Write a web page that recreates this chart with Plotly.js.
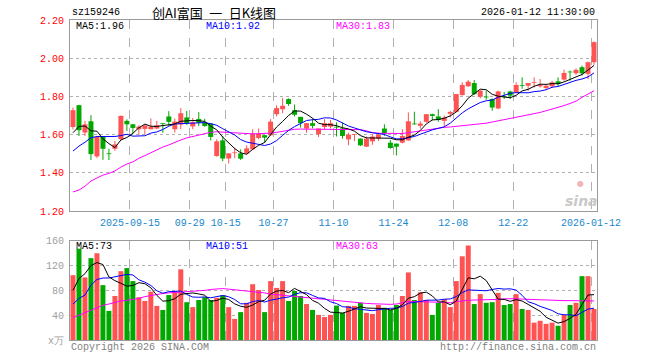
<!DOCTYPE html>
<html><head><meta charset="utf-8">
<script src="https://cdn.plot.ly/plotly-3.0.1.min.js"></script>
<style>html,body{margin:0;padding:0;background:#fff;}#chart{width:660px;height:360px;}</style>
</head><body><div id="chart"></div>
<script>
// ---- data ----
const dates = [
'2025-09-01','2025-09-02','2025-09-03','2025-09-04','2025-09-05','2025-09-08','2025-09-09','2025-09-10','2025-09-11','2025-09-12',
'2025-09-15','2025-09-16','2025-09-17','2025-09-18','2025-09-19','2025-09-22','2025-09-23','2025-09-24','2025-09-25','2025-09-26',
'2025-09-29','2025-09-30','2025-10-09','2025-10-10','2025-10-13','2025-10-14','2025-10-15','2025-10-16','2025-10-17','2025-10-20',
'2025-10-21','2025-10-22','2025-10-23','2025-10-24','2025-10-27','2025-10-28','2025-10-29','2025-10-30','2025-10-31','2025-11-03',
'2025-11-04','2025-11-05','2025-11-06','2025-11-07','2025-11-10','2025-11-11','2025-11-12','2025-11-13','2025-11-14','2025-11-17',
'2025-11-18','2025-11-19','2025-11-20','2025-11-21','2025-11-24','2025-11-25','2025-11-26','2025-11-27','2025-11-28','2025-12-01',
'2025-12-02','2025-12-03','2025-12-04','2025-12-05','2025-12-08','2025-12-09','2025-12-10','2025-12-11','2025-12-12','2025-12-15',
'2025-12-16','2025-12-17','2025-12-18','2025-12-19','2025-12-22','2025-12-23','2025-12-24','2025-12-25','2025-12-26','2025-12-29',
'2025-12-30','2025-12-31','2026-01-05','2026-01-06','2026-01-07','2026-01-08','2026-01-09','2026-01-12'];

const open = [1.640,1.754,1.611,1.670,1.486,1.590,1.502,1.526,1.576,1.672,
1.654,1.628,1.630,1.628,1.632,1.660,1.695,1.628,1.653,1.690,
1.643,1.682,1.662,1.658,1.488,1.570,1.475,1.503,1.502,1.502,
1.523,1.582,1.597,1.597,1.707,1.733,1.786,1.728,1.693,1.632,
1.660,1.602,1.640,1.642,1.641,1.632,1.575,1.598,1.579,1.537,
1.565,1.580,1.632,1.558,1.553,1.558,1.570,1.656,1.646,1.667,
1.707,1.695,1.672,1.709,1.719,1.807,1.853,1.870,1.798,1.797,
1.786,1.737,1.800,1.826,1.821,1.858,1.856,1.870,1.853,1.844,
1.853,1.879,1.888,1.928,1.921,1.953,1.918,1.979];
const high = [1.742,1.756,1.672,1.702,1.593,1.592,1.526,1.567,1.700,1.680,
1.656,1.649,1.652,1.685,1.672,1.660,1.723,1.684,1.739,1.724,
1.687,1.718,1.683,1.660,1.575,1.593,1.503,1.532,1.523,1.544,
1.628,1.632,1.597,1.681,1.754,1.791,1.790,1.758,1.693,1.660,
1.684,1.632,1.681,1.677,1.664,1.663,1.610,1.602,1.580,1.590,
1.602,1.610,1.654,1.572,1.553,1.628,1.716,1.720,1.670,1.707,
1.710,1.733,1.700,1.724,1.812,1.874,1.886,1.886,1.835,1.830,
1.790,1.830,1.823,1.830,1.874,1.900,1.870,1.900,1.891,1.865,
1.882,1.900,1.940,1.935,1.947,1.961,1.982,2.088];
const low = [1.627,1.593,1.593,1.467,1.477,1.468,1.467,1.516,1.572,1.619,
1.607,1.600,1.600,1.628,1.628,1.610,1.646,1.610,1.628,1.650,
1.628,1.645,1.641,1.570,1.484,1.461,1.449,1.477,1.467,1.497,
1.519,1.575,1.558,1.593,1.695,1.712,1.751,1.695,1.637,1.610,
1.633,1.588,1.628,1.632,1.590,1.579,1.544,1.566,1.540,1.535,
1.547,1.567,1.593,1.526,1.491,1.554,1.567,1.652,1.632,1.663,
1.675,1.667,1.642,1.690,1.716,1.804,1.850,1.807,1.790,1.782,
1.725,1.733,1.786,1.786,1.818,1.840,1.828,1.846,1.846,1.837,
1.844,1.853,1.882,1.882,1.912,1.909,1.891,1.965];
const close = [1.728,1.623,1.654,1.498,1.588,1.526,1.498,1.549,1.698,1.654,
1.635,1.642,1.648,1.642,1.649,1.656,1.667,1.668,1.712,1.660,
1.665,1.662,1.645,1.588,1.565,1.475,1.502,1.507,1.474,1.528,
1.605,1.605,1.584,1.668,1.739,1.751,1.760,1.704,1.660,1.660,
1.646,1.632,1.660,1.660,1.637,1.593,1.600,1.600,1.544,1.579,
1.590,1.600,1.607,1.530,1.537,1.593,1.670,1.654,1.658,1.707,
1.698,1.677,1.689,1.719,1.812,1.860,1.877,1.812,1.830,1.795,
1.742,1.826,1.798,1.804,1.860,1.855,1.870,1.874,1.860,1.856,
1.874,1.865,1.923,1.926,1.939,1.921,1.979,2.084];

const ma5 = [1.610,1.643,1.645,1.620,1.618,1.578,1.553,1.532,1.572,1.585,
1.607,1.636,1.655,1.644,1.643,1.647,1.652,1.656,1.670,1.673,
1.674,1.673,1.669,1.644,1.625,1.587,1.555,1.527,1.505,1.497,
1.523,1.544,1.559,1.598,1.640,1.669,1.700,1.724,1.723,1.707,
1.686,1.660,1.652,1.652,1.647,1.636,1.630,1.618,1.595,1.583,
1.583,1.583,1.584,1.581,1.573,1.573,1.587,1.597,1.622,1.656,
1.677,1.679,1.686,1.698,1.719,1.751,1.791,1.816,1.838,1.835,
1.811,1.801,1.798,1.793,1.806,1.829,1.837,1.853,1.864,1.863,
1.867,1.866,1.876,1.889,1.905,1.915,1.938,1.962];
const ma10 = [1.514,1.540,1.560,1.584,1.590,1.590,1.590,1.590,1.595,1.602,
1.592,1.594,1.594,1.608,1.614,1.627,1.644,1.656,1.657,1.658,
1.661,1.663,1.663,1.657,1.649,1.631,1.614,1.598,1.574,1.561,
1.555,1.549,1.543,1.551,1.569,1.596,1.622,1.642,1.660,1.674,
1.678,1.680,1.688,1.687,1.677,1.661,1.645,1.635,1.623,1.615,
1.610,1.606,1.601,1.588,1.578,1.578,1.585,1.590,1.602,1.615,
1.625,1.633,1.641,1.660,1.688,1.714,1.735,1.751,1.768,1.777,
1.781,1.796,1.807,1.816,1.820,1.820,1.819,1.825,1.828,1.835,
1.848,1.852,1.864,1.876,1.884,1.891,1.902,1.923];
const ma30 = [1.300,1.310,1.330,1.357,1.373,1.388,1.397,1.410,1.430,1.446,
1.457,1.476,1.490,1.506,1.520,1.535,1.546,1.560,1.572,1.583,
1.590,1.600,1.607,1.612,1.615,1.613,1.610,1.607,1.605,1.604,
1.604,1.605,1.606,1.608,1.612,1.618,1.625,1.628,1.629,1.629,
1.629,1.629,1.629,1.629,1.628,1.628,1.628,1.627,1.626,1.620,
1.610,1.607,1.606,1.605,1.605,1.606,1.610,1.615,1.620,1.625,
1.630,1.635,1.638,1.640,1.643,1.645,1.648,1.651,1.655,1.660,
1.666,1.672,1.678,1.684,1.690,1.696,1.701,1.707,1.716,1.725,
1.733,1.742,1.752,1.763,1.775,1.795,1.812,1.830];

const volume = [104.5,147,101,132,140,88.5,47,71,111,116,
95,69,63,78,55,48.5,72.5,79,114,61,
53,64.5,69,64.5,68,72,53,34,45,60,
90,80.5,45,95,84,95,63,79,71,58,
48.5,40.5,37,40.5,55.5,43.7,55,55,60,43.7,
42,56.5,52,48.5,56.5,71,109,64.5,77,64.5,
40.5,60,66,53,95,135,152.5,58,74,60,
61,76,56.5,58,74,50,48.5,28,31,26,
28,23,40.5,56.5,60,103,103,50];
const vma5 = [80,99,107,120,124.9,121.7,101.7,95.7,91.5,86.7,
88,92.4,90.8,84.2,72,62.7,63.4,66.6,73.8,75,
75.9,74.3,72.3,62.4,63.8,67.6,65.3,58.3,54.4,52.8,
56.4,61.9,64.1,74.1,78.9,79.9,76.4,83.2,78.4,73.2,
63.9,59.4,51,44.9,44.4,43.4,46.3,49.9,53.8,51.5,
51.1,51.4,50.8,48.5,51.1,56.9,67.4,69.9,75.6,77.2,
71.1,61.3,61.6,56.8,62.9,81.8,100.3,98.7,102.9,95.9,
81.1,65.8,65.5,62.3,65.1,62.9,57.4,51.7,46.3,36.7,
32.3,27.2,29.7,34.8,41.6,56.6,72.6,73.2];
const vma10 = [58,67,72.5,88.5,97.6,100,100,102,103.5,105.8,
104.9,97.1,93.3,87.9,79.4,75.4,77.9,78.7,79,73.5,
69.3,68.9,69.5,68.1,69.4,71.8,69.8,65.3,58.4,58.3,
62,63.6,61.2,64.3,65.9,68.2,69.2,73.7,76.3,76.1,
71.9,67.9,67.1,61.7,58.8,53.7,52.9,50.5,49.4,47.9,
47.3,48.9,50.4,51.2,51.3,54,59.4,60.4,62.1,64.2,
64,64.4,65.8,66.2,70.1,76.5,80.8,80.2,79.9,79.4,
81.5,83.1,82.1,82.6,80.5,72,61.6,58.6,54.3,50.9,
47.6,42.3,40.7,40.6,39.2,44.5,49.9,51.3];
const vma30 = [36,40,45,49,53,56,58,61,63,64,
65.5,67,70,72,73.5,75,76,76.5,77.5,78,
78.5,79,80,81.5,82.5,83,82,81,80,79.5,
79,77.5,76,74,73,72,71,70,69.5,69,
68,67,65.5,64,63.5,62.5,62,61,60,59,
58.5,58,57.5,57.5,58,60,62,62,62,62,
61.5,61,60.5,60,62,63.5,64,64.5,64.5,64.5,
64.5,65.5,66.5,67,66.5,66,65.5,65,65,64.5,
64,64,63.5,63.5,63.5,63.5,63.2,63];

const tickDates  = ['2025-09-15','2025-09-29','2025-10-15','2025-10-27','2025-11-10','2025-11-24','2025-12-08','2025-12-22','2026-01-12'];
const tickLabels = ['2025-09-15','09-29','10-15','10-27','11-10','11-24','12-08','12-22','2026-01-12'];
const priceTicks = [1.2,1.4,1.6,1.8,2.0,2.2];
const volTicks = [0,40,80,120,160];
const volTickText = ['x万','40','80','120','160'];

const code = 'sz159246';
const titleText = '创AI富国\u2002一\u2002日K线图';
const stamp = '2026-01-12 11:30:00';

// ---- build ----
const UP = '#ff5353', DOWN = '#00a800';
const idx = dates.map((d,i)=>i);
const isUp = idx.map(i => close[i] >= open[i]);
const colors = isUp.map(u => u ? UP : DOWN);
const bodyBase = idx.map(i => Math.min(open[i], close[i]));
const bodyH = idx.map(i => Math.max(Math.abs(close[i]-open[i]), 0.004));

function wick(up){
  const xs=[], ys=[];
  idx.forEach(i=>{ if(isUp[i]===up){ xs.push(i,i,null); ys.push(low[i],high[i],null);} });
  return {x:xs,y:ys,type:'scatter',mode:'lines',line:{color:up?UP:DOWN,width:1},xaxis:'x',yaxis:'y',hoverinfo:'skip'};
}
const tickPos = tickDates.map(d => dates.indexOf(d) - 0.5);

const lineT = (y, color, xa, ya) => ({x:idx,y:y,type:'scatter',mode:'lines',line:{color:color,width:1},xaxis:xa,yaxis:ya,hoverinfo:'skip'});

const traces = [
  wick(true), wick(false),
  {x:idx,y:bodyH,base:bodyBase,type:'bar',width:0.83,marker:{color:colors,line:{width:0}},xaxis:'x',yaxis:'y',hoverinfo:'skip'},
  lineT(ma30,'#ff00ff','x','y'), lineT(ma10,'#0000ff','x','y'), lineT(ma5,'#000000','x','y'),
  {x:idx,y:volume,type:'bar',width:0.83,marker:{color:colors,line:{width:0}},xaxis:'x2',yaxis:'y2',hoverinfo:'skip'},
  lineT(vma30,'#ff00ff','x2','y2'), lineT(vma10,'#0000ff','x2','y2'), lineT(vma5,'#000000','x2','y2')
];

const MONO = '"Liberation Mono", "DejaVu Sans Mono", monospace';
const GRID = '#b0b0b0', FRAME = '#9a9a9a';
const L=70, R=597, T=20, B=340;
const px = x => (x-L)/(R-L), py = y => (B-y)/(B-T);
function ann(text, x, y, color, anchor, size, family){
  return {text:text, xref:'paper', yref:'paper', x:px(x), y:py(y), xanchor:anchor||'left', yanchor:'middle',
    showarrow:false, font:{family:family||MONO, size:size||10, color:color||'#000'}};
}

const xCommon = {range:[-0.5,87.5], tickmode:'array', tickvals:tickPos, showgrid:true, gridcolor:GRID, griddash:'dash', gridwidth:1,
  showline:true, mirror:true, linecolor:FRAME, linewidth:1, zeroline:false, ticks:'', fixedrange:true};

const layout = {
  width:660, height:360, paper_bgcolor:'#fff', plot_bgcolor:'#fff', showlegend:false,
  margin:{l:L, r:660-R, t:T, b:360-B}, hovermode:false,
  xaxis: Object.assign({}, xCommon, {anchor:'y', ticktext:tickLabels, showticklabels:true, tickfont:{family:MONO,size:10,color:'#1a88cc'}, ticklabelstandoff:2}),
  xaxis2: Object.assign({}, xCommon, {anchor:'y2', matches:'x', showticklabels:false}),
  yaxis: {domain:[0.403,1], range:[1.2,2.2], tickmode:'array', tickvals:priceTicks, ticktext:priceTicks.map(v=>v.toFixed(2)),
    tickfont:{family:MONO,size:10,color:'#ff0000'}, showgrid:true, gridcolor:GRID, griddash:'dot', showline:true, mirror:true,
    linecolor:FRAME, linewidth:1, zeroline:false, ticks:'', ticklabelstandoff:3, anchor:'x', fixedrange:true},
  yaxis2: {domain:[0,0.31], range:[0,160], tickmode:'array', tickvals:volTicks, ticktext:volTickText,
    tickfont:{family:MONO,size:10,color:'#a0a0a0'}, showgrid:true, gridcolor:GRID, griddash:'dot', showline:true, mirror:true,
    linecolor:FRAME, linewidth:1, zeroline:false, ticks:'', ticklabelstandoff:3, anchor:'x2', fixedrange:true},
  annotations: [
    ann(code, 70, 13, '#000', 'left', 10),
    ann(titleText, 214, 12, '#000', 'center', 13, '"Noto Sans CJK SC", sans-serif'),
    ann(stamp, 597, 13, '#000', 'right', 10),
    ann('MA5:' + ma5[ma5.length-1].toFixed(2), 74, 27, '#000'),
    ann('MA10:' + ma10[ma10.length-1].toFixed(2), 204, 27, '#0000ff'),
    ann('MA30:' + ma30[ma30.length-1].toFixed(2), 334, 27, '#ff00ff'),
    ann('MA5:' + Math.round(vma5[vma5.length-1]), 74, 246, '#000'),
    ann('MA10:' + Math.round(vma10[vma10.length-1]), 204, 246, '#0000ff'),
    ann('MA30:' + Math.round(vma30[vma30.length-1]), 334, 246, '#ff00ff'),
    ann('Copyright 2026 SINA.COM', 69, 347, '#808080'),
    ann('http://finance.sina.com.cn', 598, 347, '#808080', 'right'),
    ann('●', 580, 183, '#f2b4b4', 'center', 8, 'DejaVu Sans'),
    ann('<b><i>sina</i></b>', 581, 201, '#c9c9c9', 'center', 14, '"DejaVu Sans", sans-serif')
  ]
};

Plotly.newPlot('chart', traces, layout, {staticPlot:true, displayModeBar:false});
</script></body></html>
